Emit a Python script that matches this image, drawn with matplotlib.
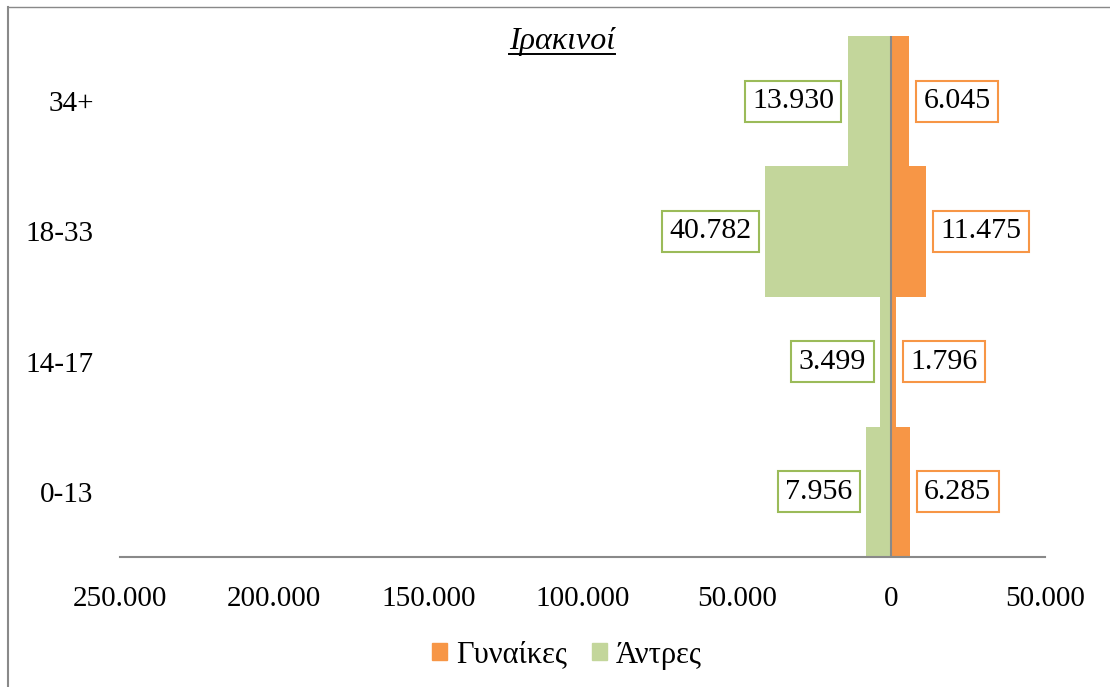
#!/usr/bin/env python3
import matplotlib
matplotlib.use("Agg")
import matplotlib.pyplot as plt
from matplotlib.lines import Line2D
from matplotlib.patches import Patch

AGES = ["0-13", "14-17", "18-33", "34+"]
MEN = [7956, 3499, 40782, 13930]
WOMEN = [6285, 1796, 11475, 6045]
TICKS = [-250000, -200000, -150000, -100000, -50000, 0, 50000]

GREEN = "#C3D69B"
GREEN_EDGE = "#9BBB59"
ORANGE = "#F79646"
GRAY = "#898989"

plt.rcParams["font.family"] = ["Liberation Serif", "DejaVu Serif"]


def fmt(v):
    return f"{abs(int(v)):,}".replace(",", ".")


def main():
    fig = plt.figure(figsize=(11.1, 6.87), dpi=100)
    ax = fig.add_axes([120 / 1110, 1 - 557 / 687, 925 / 1110, 521 / 687])

    ys = list(range(len(AGES)))
    ax.barh(ys, [-m for m in MEN], height=1.0, color=GREEN, zorder=2)
    ax.barh(ys, WOMEN, height=1.0, color=ORANGE, zorder=2)
    ax.axvline(0, color=GRAY, lw=1.5, zorder=3)

    for y, m, w in zip(ys, MEN, WOMEN):
        ax.annotate(fmt(m), (-m, y), xytext=(-10, 0), textcoords="offset points",
                    ha="right", va="center", fontsize=21.5,
                    bbox=dict(boxstyle="square,pad=0.25", fc="white",
                              ec=GREEN_EDGE, lw=1.5))
        ax.annotate(fmt(w), (w, y), xytext=(10, 0), textcoords="offset points",
                    ha="left", va="center", fontsize=21.5,
                    bbox=dict(boxstyle="square,pad=0.25", fc="white",
                              ec=ORANGE, lw=1.5))

    ax.set_xlim(-250000, 50000)
    ax.set_ylim(-0.5, 3.5)
    ax.set_xticks(TICKS)
    ax.set_xticklabels([fmt(t) for t in TICKS], fontsize=21)
    ax.set_yticks(ys)
    ax.set_yticklabels(AGES, fontsize=21)
    ax.tick_params(axis="both", length=0)
    ax.tick_params(axis="x", pad=21)
    ax.tick_params(axis="y", pad=19)
    for side in ["top", "right", "left"]:
        ax.spines[side].set_visible(False)
    ax.spines["bottom"].set_color(GRAY)
    ax.spines["bottom"].set_linewidth(1.5)

    title = fig.text(562 / 1110, 1 - 41 / 687, "Ιρακινοί", ha="center", va="center",
                     fontsize=23, style="italic")
    fig.canvas.draw()
    bb = title.get_window_extent().transformed(fig.transFigure.inverted())
    fig.add_artist(Line2D([bb.x0, bb.x1], [1 - 54 / 687] * 2,
                          transform=fig.transFigure, color="black", lw=1.4))

    handles = [Patch(color=ORANGE, label="Γυναίκες"), Patch(color=GREEN, label="Άντρες")]
    fig.legend(handles=handles, loc="center", bbox_to_anchor=(567 / 1110, 1 - 655 / 687),
               ncol=2, frameon=False, fontsize=22, handlelength=0.5, handleheight=0.5,
               handletextpad=0.3, columnspacing=0.8)

    # chart border (only left and top are visible in the crop)
    fig.add_artist(Line2D([8 / 1110, 8 / 1110], [0, 1 - 7 / 687],
                          transform=fig.transFigure, color=GRAY, lw=1.5))
    fig.add_artist(Line2D([8 / 1110, 1], [1 - 7 / 687] * 2,
                          transform=fig.transFigure, color=GRAY, lw=1.0))

    fig.savefig("out.png", dpi=100)


if __name__ == "__main__":
    main()
